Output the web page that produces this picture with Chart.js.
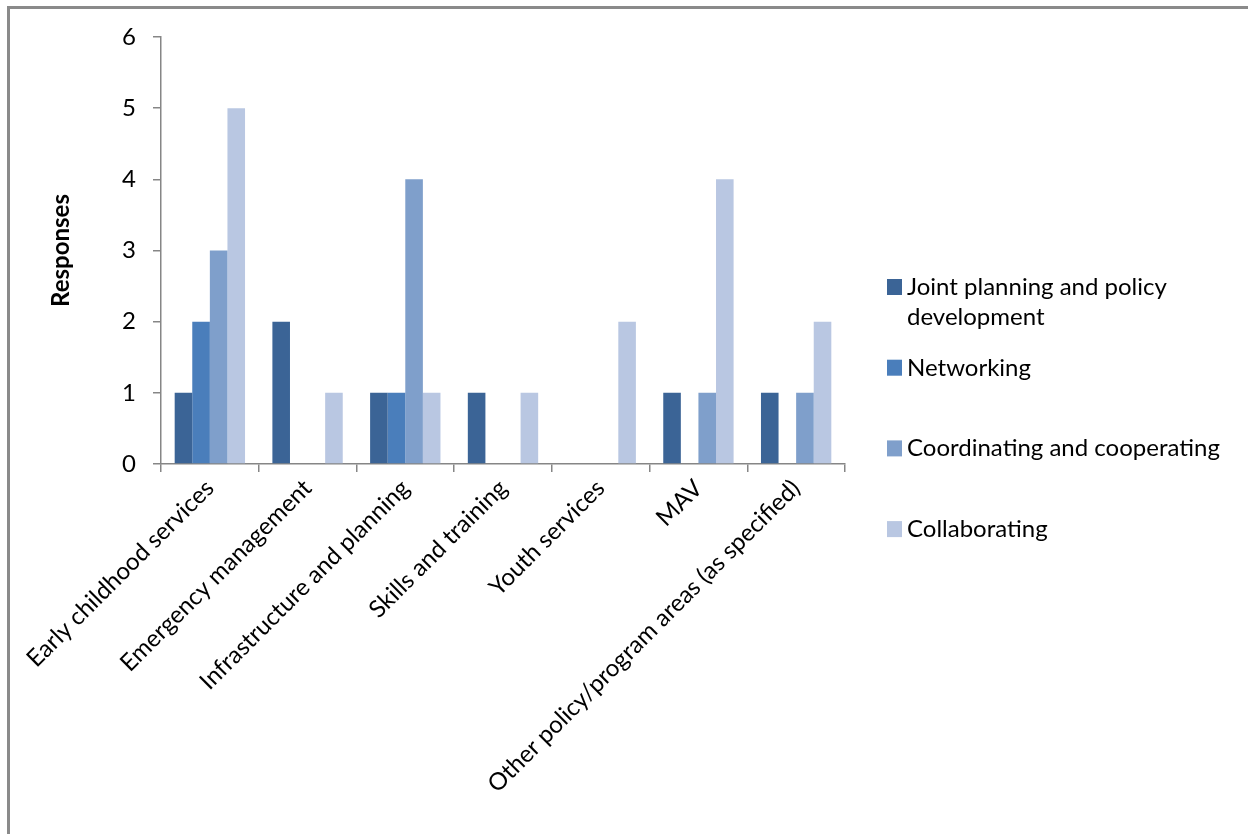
<!DOCTYPE html>
<html>
<head>
<meta charset="utf-8">
<script src="https://cdn.jsdelivr.net/npm/chart.js@4/dist/chart.umd.min.js"></script>
<style>
  html, body { margin: 0; padding: 0; background: #ffffff; }
  #wrap { width: 1248px; height: 834px; }
  canvas { display: block; }
</style>
</head>
<body>
<div id="wrap"><canvas id="chart" width="1248" height="834"></canvas></div>
<script>
// Policy/program areas and the number of responses for each type of engagement
const categories = [
  'Early childhood services',
  'Emergency management',
  'Infrastructure and planning',
  'Skills and training',
  'Youth services',
  'MAV',
  'Other policy/program areas (as specified)'
];
const seriesNames = [
  'Joint planning and policy development',
  'Networking',
  'Coordinating and cooperating',
  'Collaborating'
];
const jointPlanning = [1, 2, 1, 1, 0, 1, 1];
const networking    = [2, 0, 1, 0, 0, 0, 0];
const coordinating  = [3, 0, 4, 0, 0, 1, 1];
const collaborating = [5, 1, 1, 1, 2, 4, 2];
const yTicks = [0, 1, 2, 3, 4, 5, 6];

const seriesColors = ['#3b6496', '#4a7ebb', '#7f9fcb', '#b9c7e2'];
const axisGrey = '#868686';
const FONT = 'Lato, "Open Sans", sans-serif';
const FONT_SIZE = 24;

// Grey frame around the whole chart
const framePlugin = {
  id: 'frame',
  beforeDraw(chart) {
    const ctx = chart.ctx;
    ctx.save();
    ctx.fillStyle = '#ffffff';
    ctx.fillRect(0, 0, chart.width, chart.height);
    ctx.fillStyle = '#8a8a8a';
    ctx.fillRect(8, 6, chart.width - 8, 3);
    ctx.fillRect(7, 6, 3, chart.height - 6);
    ctx.restore();
  }
};

// Legend on the right, wrapped the way the office chart lays it out
const sideLegend = {
  id: 'sideLegend',
  afterDraw(chart) {
    const ctx = chart.ctx;
    const boxX = 887, textX = 907, maxW = 330;
    const firstBaseline = 295, rowStep = 80.7, lineStep = 30;
    ctx.save();
    ctx.font = FONT_SIZE + 'px ' + FONT;
    ctx.textBaseline = 'alphabetic';
    ctx.textAlign = 'left';
    chart.data.datasets.forEach((ds, i) => {
      const base = firstBaseline + i * rowStep;
      ctx.fillStyle = ds.backgroundColor;
      ctx.fillRect(boxX, base - 16, 15, 16);
      // word wrap
      const words = ds.label.split(' ');
      const lines = [];
      let cur = '';
      words.forEach(w => {
        const t = cur ? cur + ' ' + w : w;
        if (ctx.measureText(t).width > maxW && cur) { lines.push(cur); cur = w; }
        else cur = t;
      });
      if (cur) lines.push(cur);
      ctx.fillStyle = '#000000';
      lines.forEach((ln, k) => ctx.fillText(ln, textX, base + k * lineStep));
    });
    ctx.restore();
  }
};

const seriesValues = [jointPlanning, networking, coordinating, collaborating];

new Chart(document.getElementById('chart'), {
  type: 'bar',
  data: {
    labels: categories,
    datasets: seriesNames.map((name, i) => ({
      label: name,
      data: seriesValues[i],
      backgroundColor: seriesColors[i],
      borderWidth: 0,
      categoryPercentage: 0.72,
      barPercentage: 1.0
    }))
  },
  options: {
    responsive: false,
    animation: false,
    layout: { padding: { left: 0, top: 37, right: 403, bottom: 0 } },
    plugins: {
      legend: { display: false },
      tooltip: { enabled: false }
    },
    scales: {
      x: {
        grid: {
          offset: true,
          drawOnChartArea: false,
          drawTicks: true,
          tickLength: 8,
          color: axisGrey,
          lineWidth: 1.5
        },
        border: { display: true, color: axisGrey, width: 1.5 },
        ticks: {
          color: '#000000',
          font: { family: FONT, size: FONT_SIZE },
          minRotation: 45,
          maxRotation: 45,
          autoSkip: false,
          padding: 2
        },
        afterFit(scale) { scale.height = 370; }
      },
      y: {
        min: 0,
        max: 6,
        afterBuildTicks(scale) { scale.ticks = yTicks.map(v => ({ value: v })); },
        grid: {
          drawOnChartArea: false,
          drawTicks: true,
          tickLength: 8,
          color: axisGrey,
          lineWidth: 1.5
        },
        border: { display: true, color: axisGrey, width: 1.5 },
        ticks: {
          color: '#000000',
          font: { family: FONT, size: FONT_SIZE },
          padding: 17
        },
        title: {
          display: true,
          text: 'Responses',
          color: '#000000',
          font: { family: FONT, size: 24, weight: 'bold' },
          padding: { top: 47, bottom: 0 }
        },
        afterFit(scale) { scale.width = 161; }
      }
    }
  },
  plugins: [framePlugin, sideLegend]
});
</script>
</body>
</html>
